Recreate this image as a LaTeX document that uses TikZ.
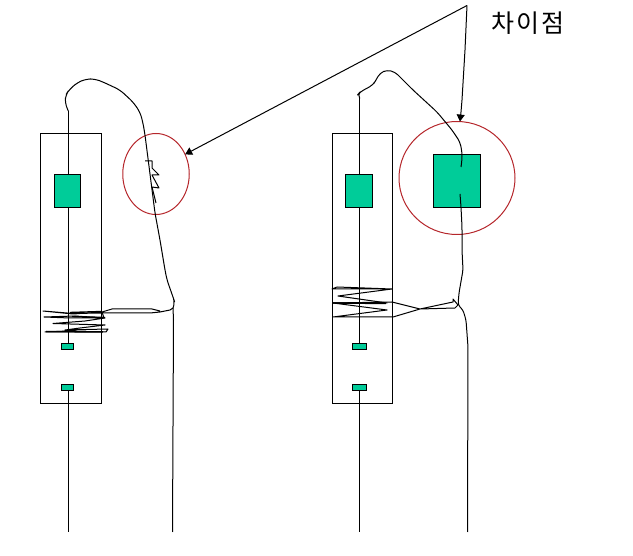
\documentclass[tikz,border=0pt]{standalone}
\usepackage{fontspec}
\newfontfamily\cjk[LetterSpace=9]{Noto Sans CJK KR}
\usetikzlibrary{arrows.meta,shapes.geometric}
\definecolor{boxgreen}{HTML}{00CC99}
\definecolor{ringred}{HTML}{B5262B}
\tikzset{
  wire/.style={line width=1pt, line join=round},
  pointer/.style={wire, -{Triangle[length=7pt,width=8pt]}},
  frame/.style={draw, line width=1pt, inner sep=0pt, outer sep=0pt},
  part/.style={frame, fill=boxgreen},
  ring/.style={ellipse, draw=ringred, line width=1pt, inner sep=0pt, outer sep=0pt}
}
\begin{document}
\begin{tikzpicture}[x=1pt, y=-1pt]
    \useasboundingbox (0,0) rectangle (633,556);

    % left unit
    \node[frame, minimum width=61pt, minimum height=270pt] at (70.5, 268.6) (lframe) {};
    \node[part, minimum width=26pt, minimum height=33pt] at (67, 191.1) (lgreen) {};
    \node[part, minimum width=12pt, minimum height=6pt] at (67, 346.6) (lsmalla) {};
    \node[part, minimum width=12pt, minimum height=6pt] at (67, 387.6) (lsmallb) {};
    \node[ring, minimum width=66.5pt, minimum height=81pt] at (156, 174) (lring) {};

    \coordinate (ltop) at (68.3, 111);
    \coordinate (lbottom) at (68.3, 532);
    \coordinate (lknee) at (173, 308);
    \coordinate (lfoot) at (172.5, 532);

    \draw[wire] (ltop) -- (lgreen.north -| ltop);
    \draw[wire] (lgreen.south -| ltop) -- (lsmalla.north -| ltop);
    \draw[wire] (lsmallb.south -| ltop) -- (lbottom);
    \draw[wire, rounded corners=5pt] (ltop) -- (65,103) -- (65.7,95) -- (69,90) -- (76.7,83) -- (86,79) -- (95,79) -- (103,82)
      -- (120,90) -- (133,102) -- (140,112) -- (143,123) -- (145,135) -- (155,213) -- (160,240)
      -- (165,270) -- (167,280) -- (173,297) -- (175,303) -- (lknee);
    \draw[wire] (lknee) -- (173.5,320) -- (lfoot);
    % kink in the ring
    \draw[wire] (145,161) -- (152,161) -- (152,168) -- (159,175) -- (152,175) -- (159,188) -- (152,187) -- (156,203);
    % left coil
    \draw[wire] (lknee) -- (170,310) -- (160,312) -- (150,313) -- (113,313) -- (102,313) -- (73,313.5) -- (43,311)
      -- (73,314) -- (102,312) -- (112,309) -- (152,309) -- (160,311);
    \draw[wire] (102,312) -- (104,318) -- (75,316) -- (44,317) -- (70,318) -- (105,318) -- (85,321) -- (53,323.5)
      -- (105,325) -- (80,328) -- (65,330) -- (108,329) -- (106,332) -- (45,332) -- (68,331) -- (104,332);
    \draw[line width=1.5pt] (46,331.5) -- (103,332);
    \draw[line width=1.4pt] (70,312.5) -- (102,311.5);
    \draw[line width=1.4pt] (72,316.5) -- (105,317.5);

    % right unit
    \node[frame, minimum width=60pt, minimum height=270pt] at (362, 268.6) (rframe) {};
    \node[part, minimum width=27pt, minimum height=33pt] at (358.5, 191.1) (rgreen) {};
    \node[part, minimum width=14pt, minimum height=6pt] at (359, 346.6) (rsmalla) {};
    \node[part, minimum width=14pt, minimum height=6pt] at (359, 387.6) (rsmallb) {};
    \node[part, minimum width=47pt, minimum height=53pt] at (456.5, 181.1) (rbig) {};
    \node[ring, minimum width=116pt, minimum height=113pt] at (457, 178) (rring) {};

    \coordinate (rtop) at (359.5, 98);
    \coordinate (rbottom) at (359.5, 532);
    \coordinate (rknee) at (458, 305);
    \coordinate (rfoot) at (467.5, 532);

    \draw[wire] (rtop) -- (rgreen.north -| rtop);
    \draw[wire] (rgreen.south -| rtop) -- (rsmalla.north -| rtop);
    \draw[wire] (rsmallb.south -| rtop) -- (rbottom);
    \draw[wire, rounded corners=4pt] (rtop) -- (357.5,95) -- (360,92) -- (373,85) -- (376,80) -- (380,73) -- (387,70) -- (395,72)
      -- (413,90) -- (437,112) -- (452,130) -- (460,142) -- (462,152) -- (462,160) -- (461,167);
    \draw[wire, rounded corners=3pt] (460,194) -- (461,207) -- (462,227) -- (462,250) -- (463,270) -- (459,293) -- (rknee)
      -- (463,310) -- (466,320) -- (468,347) -- (rfoot);
    % right coil
    \draw[wire] (rknee) -- (455,308) -- (420,309) -- (392,302) -- (333,303) -- (387,310) -- (333,317) -- (393,317)
      -- (420,309) -- (453,302) -- (453,299) -- (rknee);
    \draw[wire] (333,303) -- (387,303) -- (338,296) -- (392,289) -- (337,287) -- (332,289) -- (392,289);
    \draw[line width=1.4pt] (333,303) -- (386,303.5);

    % callout
    \coordinate (tip) at (467, 5.5);
    \draw[wire] (tip) -- (465,50) -- (462,100) -- (461,112);
    \draw[pointer] (461,112) -- (rring.87);
    \draw[pointer] (tip) -- (lring.34);

    \node[inner sep=0pt] at (528, 23) (diff) {\cjk\fontsize{25}{25}\selectfont 차이점};
\end{tikzpicture}
\end{document}
